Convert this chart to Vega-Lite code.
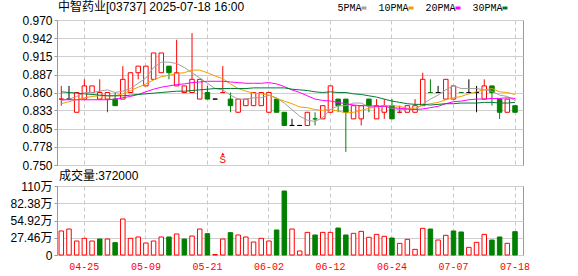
{
  "$schema": "https://vega.github.io/schema/vega-lite/v6.json",
  "background": "#ffffff",
  "padding": {"left": 9, "top": 0, "right": 5, "bottom": 5},
  "bounds": "flush",
  "spacing": 21,
  "config": {
    "view": {"stroke": "#999999", "strokeWidth": 1},
    "axis": {"title": null, "labelFont": "Liberation Sans, Noto Sans CJK SC", "labelFontSize": 12, "labelColor": "#000000", "tickColor": "#999999", "domain": false, "gridColor": "#cfcfcf", "gridWidth": 1, "labelOverlap": false},
    "title": {"font": "Liberation Sans, Noto Sans CJK SC", "fontSize": 12, "fontWeight": "normal", "color": "#000000", "anchor": "start", "baseline": "alphabetic", "frame": "group"}
  },
  "data": {"values": [
    {"date": "04-22", "open": 0.85, "high": 0.87, "low": 0.84, "close": 0.85, "volume": 383000, "ma5": 0.848, "ma10": 0.843, "ma20": 0.849, "ma30": 0.861},
    {"date": "04-23", "open": 0.85, "high": 0.87, "low": 0.85, "close": 0.85, "volume": 414000, "ma5": 0.850, "ma10": 0.846, "ma20": 0.849, "ma30": 0.860},
    {"date": "04-24", "open": 0.83, "high": 0.86, "low": 0.83, "close": 0.86, "volume": 223000, "ma5": 0.854, "ma10": 0.849, "ma20": 0.849, "ma30": 0.859},
    {"date": "04-25", "open": 0.85, "high": 0.88, "low": 0.85, "close": 0.87, "volume": 266000, "ma5": 0.860, "ma10": 0.852, "ma20": 0.849, "ma30": 0.858},
    {"date": "04-28", "open": 0.86, "high": 0.87, "low": 0.86, "close": 0.87, "volume": 223000, "ma5": 0.860, "ma10": 0.854, "ma20": 0.849, "ma30": 0.857},
    {"date": "04-29", "open": 0.85, "high": 0.88, "low": 0.85, "close": 0.86, "volume": 255000, "ma5": 0.862, "ma10": 0.855, "ma20": 0.849, "ma30": 0.856},
    {"date": "04-30", "open": 0.85, "high": 0.86, "low": 0.83, "close": 0.86, "volume": 255000, "ma5": 0.864, "ma10": 0.855, "ma20": 0.849, "ma30": 0.855},
    {"date": "05-02", "open": 0.85, "high": 0.86, "low": 0.84, "close": 0.84, "volume": 197000, "ma5": 0.860, "ma10": 0.855, "ma20": 0.850, "ma30": 0.855},
    {"date": "05-06", "open": 0.85, "high": 0.90, "low": 0.85, "close": 0.88, "volume": 574000, "ma5": 0.862, "ma10": 0.858, "ma20": 0.852, "ma30": 0.855},
    {"date": "05-07", "open": 0.86, "high": 0.89, "low": 0.86, "close": 0.89, "volume": 266000, "ma5": 0.866, "ma10": 0.863, "ma20": 0.854, "ma30": 0.856},
    {"date": "05-08", "open": 0.89, "high": 0.90, "low": 0.88, "close": 0.90, "volume": 287000, "ma5": 0.874, "ma10": 0.868, "ma20": 0.857, "ma30": 0.857},
    {"date": "05-09", "open": 0.87, "high": 0.90, "low": 0.87, "close": 0.90, "volume": 191000, "ma5": 0.882, "ma10": 0.873, "ma20": 0.861, "ma30": 0.858},
    {"date": "05-12", "open": 0.88, "high": 0.92, "low": 0.88, "close": 0.92, "volume": 223000, "ma5": 0.898, "ma10": 0.879, "ma20": 0.865, "ma30": 0.859},
    {"date": "05-13", "open": 0.89, "high": 0.92, "low": 0.89, "close": 0.92, "volume": 287000, "ma5": 0.906, "ma10": 0.884, "ma20": 0.868, "ma30": 0.860},
    {"date": "05-14", "open": 0.90, "high": 0.90, "low": 0.88, "close": 0.89, "volume": 287000, "ma5": 0.906, "ma10": 0.886, "ma20": 0.870, "ma30": 0.861},
    {"date": "05-15", "open": 0.87, "high": 0.94, "low": 0.87, "close": 0.89, "volume": 335000, "ma5": 0.904, "ma10": 0.889, "ma20": 0.872, "ma30": 0.862},
    {"date": "05-16", "open": 0.86, "high": 0.87, "low": 0.86, "close": 0.87, "volume": 255000, "ma5": 0.898, "ma10": 0.890, "ma20": 0.873, "ma30": 0.862},
    {"date": "05-19", "open": 0.86, "high": 0.95, "low": 0.86, "close": 0.88, "volume": 303000, "ma5": 0.890, "ma10": 0.894, "ma20": 0.875, "ma30": 0.863},
    {"date": "05-20", "open": 0.85, "high": 0.88, "low": 0.85, "close": 0.88, "volume": 414000, "ma5": 0.882, "ma10": 0.894, "ma20": 0.876, "ma30": 0.864},
    {"date": "05-21", "open": 0.86, "high": 0.87, "low": 0.85, "close": 0.85, "volume": 340000, "ma5": 0.874, "ma10": 0.890, "ma20": 0.877, "ma30": 0.865},
    {"date": "05-22", "open": 0.85, "high": 0.85, "low": 0.85, "close": 0.85, "volume": 8000, "ma5": 0.866, "ma10": 0.885, "ma20": 0.877, "ma30": 0.866},
    {"date": "05-23", "open": 0.86, "high": 0.90, "low": 0.86, "close": 0.86, "volume": 255000, "ma5": 0.864, "ma10": 0.881, "ma20": 0.877, "ma30": 0.866, "flag": "S"},
    {"date": "05-26", "open": 0.85, "high": 0.86, "low": 0.83, "close": 0.84, "volume": 356000, "ma5": 0.856, "ma10": 0.873, "ma20": 0.876, "ma30": 0.866},
    {"date": "05-27", "open": 0.83, "high": 0.85, "low": 0.83, "close": 0.85, "volume": 319000, "ma5": 0.850, "ma10": 0.866, "ma20": 0.875, "ma30": 0.866},
    {"date": "05-28", "open": 0.84, "high": 0.85, "low": 0.84, "close": 0.85, "volume": 287000, "ma5": 0.850, "ma10": 0.862, "ma20": 0.874, "ma30": 0.866},
    {"date": "05-29", "open": 0.84, "high": 0.86, "low": 0.84, "close": 0.86, "volume": 207000, "ma5": 0.852, "ma10": 0.859, "ma20": 0.874, "ma30": 0.867},
    {"date": "05-30", "open": 0.84, "high": 0.86, "low": 0.84, "close": 0.86, "volume": 266000, "ma5": 0.852, "ma10": 0.858, "ma20": 0.874, "ma30": 0.867},
    {"date": "06-02", "open": 0.83, "high": 0.86, "low": 0.83, "close": 0.86, "volume": 223000, "ma5": 0.856, "ma10": 0.856, "ma20": 0.875, "ma30": 0.867},
    {"date": "06-03", "open": 0.85, "high": 0.85, "low": 0.83, "close": 0.83, "volume": 399000, "ma5": 0.852, "ma10": 0.851, "ma20": 0.873, "ma30": 0.867},
    {"date": "06-04", "open": 0.83, "high": 0.83, "low": 0.81, "close": 0.81, "volume": 1020000, "ma5": 0.844, "ma10": 0.847, "ma20": 0.869, "ma30": 0.867},
    {"date": "06-05", "open": 0.81, "high": 0.82, "low": 0.81, "close": 0.81, "volume": 414000, "ma5": 0.834, "ma10": 0.843, "ma20": 0.864, "ma30": 0.865},
    {"date": "06-06", "open": 0.81, "high": 0.81, "low": 0.81, "close": 0.81, "volume": 64000, "ma5": 0.824, "ma10": 0.838, "ma20": 0.860, "ma30": 0.864},
    {"date": "06-09", "open": 0.81, "high": 0.83, "low": 0.81, "close": 0.83, "volume": 361000, "ma5": 0.818, "ma10": 0.837, "ma20": 0.855, "ma30": 0.863},
    {"date": "06-10", "open": 0.82, "high": 0.83, "low": 0.81, "close": 0.82, "volume": 319000, "ma5": 0.816, "ma10": 0.834, "ma20": 0.850, "ma30": 0.861},
    {"date": "06-11", "open": 0.82, "high": 0.84, "low": 0.82, "close": 0.84, "volume": 361000, "ma5": 0.822, "ma10": 0.833, "ma20": 0.848, "ma30": 0.860},
    {"date": "06-12", "open": 0.83, "high": 0.87, "low": 0.83, "close": 0.87, "volume": 361000, "ma5": 0.834, "ma10": 0.834, "ma20": 0.847, "ma30": 0.861},
    {"date": "06-13", "open": 0.85, "high": 0.85, "low": 0.83, "close": 0.84, "volume": 430000, "ma5": 0.840, "ma10": 0.832, "ma20": 0.845, "ma30": 0.860},
    {"date": "06-16", "open": 0.85, "high": 0.85, "low": 0.77, "close": 0.83, "volume": 319000, "ma5": 0.840, "ma10": 0.829, "ma20": 0.843, "ma30": 0.860},
    {"date": "06-17", "open": 0.82, "high": 0.84, "low": 0.82, "close": 0.84, "volume": 345000, "ma5": 0.844, "ma10": 0.830, "ma20": 0.841, "ma30": 0.858},
    {"date": "06-18", "open": 0.82, "high": 0.84, "low": 0.81, "close": 0.84, "volume": 377000, "ma5": 0.844, "ma10": 0.833, "ma20": 0.840, "ma30": 0.857},
    {"date": "06-19", "open": 0.85, "high": 0.85, "low": 0.83, "close": 0.84, "volume": 282000, "ma5": 0.838, "ma10": 0.836, "ma20": 0.840, "ma30": 0.855},
    {"date": "06-20", "open": 0.82, "high": 0.85, "low": 0.82, "close": 0.84, "volume": 329000, "ma5": 0.838, "ma10": 0.839, "ma20": 0.839, "ma30": 0.853},
    {"date": "06-23", "open": 0.83, "high": 0.85, "low": 0.82, "close": 0.84, "volume": 298000, "ma5": 0.840, "ma10": 0.840, "ma20": 0.839, "ma30": 0.850},
    {"date": "06-24", "open": 0.84, "high": 0.85, "low": 0.82, "close": 0.82, "volume": 271000, "ma5": 0.836, "ma10": 0.840, "ma20": 0.837, "ma30": 0.847},
    {"date": "06-25", "open": 0.83, "high": 0.84, "low": 0.83, "close": 0.83, "volume": 186000, "ma5": 0.834, "ma10": 0.839, "ma20": 0.836, "ma30": 0.845},
    {"date": "06-26", "open": 0.83, "high": 0.84, "low": 0.83, "close": 0.84, "volume": 250000, "ma5": 0.834, "ma10": 0.836, "ma20": 0.835, "ma30": 0.843},
    {"date": "06-27", "open": 0.83, "high": 0.85, "low": 0.83, "close": 0.84, "volume": 90000, "ma5": 0.834, "ma10": 0.836, "ma20": 0.834, "ma30": 0.842},
    {"date": "06-30", "open": 0.84, "high": 0.89, "low": 0.84, "close": 0.88, "volume": 425000, "ma5": 0.842, "ma10": 0.841, "ma20": 0.835, "ma30": 0.842},
    {"date": "07-02", "open": 0.86, "high": 0.88, "low": 0.86, "close": 0.86, "volume": 414000, "ma5": 0.850, "ma10": 0.843, "ma20": 0.837, "ma30": 0.841},
    {"date": "07-03", "open": 0.86, "high": 0.87, "low": 0.86, "close": 0.86, "volume": 239000, "ma5": 0.856, "ma10": 0.845, "ma20": 0.839, "ma30": 0.842},
    {"date": "07-04", "open": 0.85, "high": 0.88, "low": 0.85, "close": 0.88, "volume": 314000, "ma5": 0.864, "ma10": 0.849, "ma20": 0.843, "ma30": 0.843},
    {"date": "07-07", "open": 0.85, "high": 0.87, "low": 0.85, "close": 0.87, "volume": 383000, "ma5": 0.870, "ma10": 0.852, "ma20": 0.846, "ma30": 0.843},
    {"date": "07-08", "open": 0.86, "high": 0.86, "low": 0.86, "close": 0.86, "volume": 367000, "ma5": 0.866, "ma10": 0.854, "ma20": 0.847, "ma30": 0.844},
    {"date": "07-09", "open": 0.86, "high": 0.88, "low": 0.86, "close": 0.86, "volume": 122000, "ma5": 0.866, "ma10": 0.858, "ma20": 0.849, "ma30": 0.844},
    {"date": "07-10", "open": 0.86, "high": 0.87, "low": 0.83, "close": 0.86, "volume": 202000, "ma5": 0.866, "ma10": 0.861, "ma20": 0.850, "ma30": 0.844},
    {"date": "07-14", "open": 0.85, "high": 0.88, "low": 0.85, "close": 0.87, "volume": 329000, "ma5": 0.864, "ma10": 0.864, "ma20": 0.850, "ma30": 0.845},
    {"date": "07-15", "open": 0.87, "high": 0.87, "low": 0.84, "close": 0.86, "volume": 239000, "ma5": 0.862, "ma10": 0.866, "ma20": 0.851, "ma30": 0.845},
    {"date": "07-16", "open": 0.85, "high": 0.85, "low": 0.82, "close": 0.83, "volume": 287000, "ma5": 0.856, "ma10": 0.861, "ma20": 0.851, "ma30": 0.844},
    {"date": "07-17", "open": 0.83, "high": 0.85, "low": 0.83, "close": 0.85, "volume": 186000, "ma5": 0.854, "ma10": 0.860, "ma20": 0.852, "ma30": 0.844},
    {"date": "07-18", "open": 0.84, "high": 0.84, "low": 0.83, "close": 0.83, "volume": 372000, "ma5": 0.848, "ma10": 0.857, "ma20": 0.851, "ma30": 0.845}
  ]},
  "transform": [
    {"window": [{"op": "lag", "field": "close", "as": "prev"}], "sort": [{"field": "date", "order": "ascending"}]},
    {"calculate": "datum.close > datum.open ? 'up' : datum.close < datum.open ? 'down' : (datum.prev == null || datum.close > datum.prev) ? 'up' : datum.close < datum.prev ? 'down' : 'flat'", "as": "cc"},
    {"calculate": "datum.close > datum.open ? 'hollow' : 'solid'", "as": "body"},
    {"calculate": "(datum.prev == null || datum.close >= datum.prev) ? 'up' : 'down'", "as": "vc"}
  ],
  "vconcat": [
    {
      "width": 466,
      "height": 145,
      "title": {"text": "中智药业[03737] 2025-07-18 16:00", "offset": 0, "dx": 1},
      "encoding": {
        "x": {"field": "date", "type": "ordinal",
          "scale": {"paddingInner": 0.415, "paddingOuter": 0.5065, "align": 0.263},
          "axis": {"labels": false, "ticks": false, "grid": true, "gridDash": [4, 3], "gridColor": "#c8c8c8",
            "values": ["04-25", "05-09", "05-21", "06-02", "06-12", "06-24", "07-07", "07-18"]}}
      },
      "layer": [
        {
          "mark": {"type": "rule", "strokeWidth": 1},
          "encoding": {
            "y": {"field": "low", "type": "quantitative",
              "scale": {"domain": [0.75, 0.97], "zero": false, "nice": false},
              "axis": {"values": [0.75, 0.778, 0.805, 0.833, 0.86, 0.887, 0.915, 0.942, 0.97], "format": ".3f", "grid": true, "tickSize": 3, "labelPadding": 2, "labelOverlap": false, "labelBound": false}},
            "y2": {"field": "high"},
            "stroke": {"field": "cc", "type": "nominal", "scale": {"domain": ["up", "down", "flat"], "range": ["#ff0000", "#008000", "#000000"]}, "legend": null}
          }
        },
        {
          "mark": {"type": "bar", "strokeWidth": 1},
          "encoding": {
            "y": {"field": "open", "type": "quantitative", "scale": {"domain": [0.75, 0.97], "zero": false, "nice": false},
              "axis": {"values": [0.75, 0.778, 0.805, 0.833, 0.86, 0.887, 0.915, 0.942, 0.97], "format": ".3f", "grid": true, "tickSize": 3, "labelPadding": 2, "labelOverlap": false, "labelBound": false}},
            "y2": {"field": "close"},
            "stroke": {"field": "cc", "type": "nominal", "legend": null},
            "fill": {"field": "body", "type": "nominal", "scale": {"domain": ["hollow", "solid"], "range": ["#ffffff", "#008000"]}, "legend": null}
          }
        },
        {
          "transform": [{"fold": ["ma5", "ma10", "ma20", "ma30"], "as": ["ma", "val"]}],
          "mark": {"type": "line", "strokeWidth": 1, "interpolate": "linear"},
          "encoding": {
            "y": {"field": "val", "type": "quantitative", "scale": {"domain": [0.75, 0.97], "zero": false, "nice": false},
              "axis": {"values": [0.75, 0.778, 0.805, 0.833, 0.86, 0.887, 0.915, 0.942, 0.97], "format": ".3f", "grid": true, "tickSize": 3, "labelPadding": 2, "labelOverlap": false, "labelBound": false}},
            "color": {"field": "ma", "type": "nominal",
              "scale": {"domain": ["ma5", "ma10", "ma20", "ma30"], "range": ["#a0a0a0", "#f0a000", "#ff00ff", "#007a33"]},
              "legend": {"orient": "none", "legendX": 302, "legendY": -17, "direction": "horizontal", "title": null,
                "symbolType": "stroke", "symbolSize": 25, "symbolStrokeWidth": 3,
                "labelFont": "Liberation Mono", "labelFontSize": 10, "labelColor": "#000000",
                "labelAlign": "right", "labelOffset": -7.5, "columnPadding": 5, "padding": 0,
                "labelExpr": "slice(datum.label, 2) + 'PMA'"}}
          }
        },
        {
          "transform": [{"filter": "datum.flag == 'S'"}],
          "mark": {"type": "text", "font": "Liberation Mono", "fontSize": 11, "color": "#ff0000"},
          "encoding": {
            "y": {"datum": 0.757, "type": "quantitative", "scale": {"domain": [0.75, 0.97], "zero": false, "nice": false},
              "axis": {"values": [0.75, 0.778, 0.805, 0.833, 0.86, 0.887, 0.915, 0.942, 0.97], "format": ".3f", "grid": true, "tickSize": 3, "labelPadding": 2, "labelOverlap": false, "labelBound": false}},
            "text": {"field": "flag"}
          }
        },
        {
          "transform": [{"filter": "datum.flag == 'S'"}],
          "mark": {"type": "point", "shape": "triangle-up", "filled": true, "size": 12, "color": "#ff0000", "opacity": 1},
          "encoding": {
            "y": {"datum": 0.7667, "type": "quantitative", "scale": {"domain": [0.75, 0.97], "zero": false, "nice": false},
              "axis": {"values": [0.75, 0.778, 0.805, 0.833, 0.86, 0.887, 0.915, 0.942, 0.97], "format": ".3f", "grid": true, "tickSize": 3, "labelPadding": 2, "labelOverlap": false, "labelBound": false}}
          }
        }
      ]
    },
    {
      "width": 466,
      "height": 69,
      "title": {"text": "成交量:372000", "offset": -3, "dx": 2},
      "mark": {"type": "bar", "strokeWidth": 1},
      "encoding": {
        "x": {"field": "date", "type": "ordinal",
          "scale": {"paddingInner": 0.415, "paddingOuter": 0.5065, "align": 0.263},
          "axis": {"values": ["04-25", "05-09", "05-21", "06-02", "06-12", "06-24", "07-07", "07-18"],
            "labelColor": "#ff0000", "labelFont": "Liberation Mono", "labelFontSize": 10, "labelAngle": 0,
            "ticks": false, "labelPadding": 6, "grid": true, "gridDash": [4, 3], "gridColor": "#c8c8c8"}},
        "y": {"field": "volume", "type": "quantitative",
          "scale": {"domain": [0, 1100000], "nice": false},
          "axis": {"values": [0, 274600, 549200, 823800, 1100000],
            "labelExpr": "datum.value == 0 ? '0' : format(datum.value / 10000, '.2~f') + '万'",
            "tickSize": 3, "labelPadding": 2, "grid": true}},
        "stroke": {"field": "vc", "type": "nominal", "scale": {"domain": ["up", "down"], "range": ["#ff0000", "#008000"]}, "legend": null},
        "fill": {"field": "vc", "type": "nominal", "scale": {"domain": ["up", "down"], "range": ["#ffffff", "#008000"]}, "legend": null}
      }
    }
  ]
}
